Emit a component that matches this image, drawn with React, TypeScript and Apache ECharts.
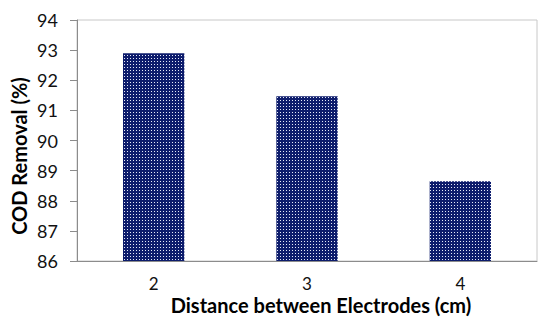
import React, { useEffect, useRef } from "react";
import * as echarts from "echarts";

const categories = ["2", "3", "4"];
const codRemoval = [92.9, 91.47, 88.65];
const yTicks = [86, 87, 88, 89, 90, 91, 92, 93, 94];
const xTitle = "Distance between Electrodes (cm)";
const yTitle = "COD Removal (%)";

function makePattern(): HTMLCanvasElement {
  const c = document.createElement("canvas");
  c.width = 3;
  c.height = 3;
  const ctx = c.getContext("2d")!;
  ctx.fillStyle = "#0d1c6c";
  ctx.fillRect(0, 0, 3, 3);
  ctx.fillStyle = "#e6eaf8";
  ctx.fillRect(1, 1, 1, 1);
  return c;
}

export default function App() {
  const ref = useRef<HTMLDivElement>(null);
  useEffect(() => {
    if (!ref.current) return;
    const chart = echarts.init(ref.current, null, { renderer: "svg" });
    const font = "Lato, 'Open Sans', sans-serif";
    chart.setOption({
      animation: false,
      backgroundColor: "#ffffff",
      grid: {
        left: 77,
        right: 13,
        top: 20,
        bottom: 61,
        show: true,
        borderColor: "#c8c8c8",
        borderWidth: 1,
      },
      xAxis: {
        type: "category",
        data: categories,
        axisLine: { lineStyle: { color: "#8c8c8c", width: 1 } },
        axisTick: { show: false },
        axisLabel: {
          color: "#111",
          fontSize: 17,
          lineHeight: 17,
          fontFamily: font,
          margin: 14,
        },
      },
      yAxis: {
        type: "value",
        min: yTicks[0],
        max: yTicks[yTicks.length - 1],
        interval: 1,
        splitLine: { show: false },
        axisLine: { show: true, lineStyle: { color: "#8c8c8c", width: 1 } },
        axisTick: { show: true, length: 7, lineStyle: { color: "#8c8c8c" } },
        axisLabel: {
          color: "#111",
          fontSize: 18,
          fontFamily: font,
          margin: 19,
        },
      },
      series: [
        {
          type: "bar",
          data: codRemoval,
          barWidth: "40%",
          itemStyle: {
            color: { image: makePattern(), repeat: "repeat" },
          },
        },
      ],
      graphic: [
        {
          type: "text",
          x: 321,
          y: 305,
          style: {
            text: xTitle,
            fontSize: 20,
            fontWeight: "bold",
            fontFamily: font,
            fill: "#000",
            textAlign: "center",
            textVerticalAlign: "middle",
          },
        },
        {
          type: "text",
          x: 19,
          y: 156,
          rotation: Math.PI / 2,
          style: {
            text: yTitle,
            fontSize: 20,
            fontWeight: "bold",
            fontFamily: font,
            fill: "#000",
            textAlign: "center",
            textVerticalAlign: "middle",
          },
        },
      ],
    });
    return () => chart.dispose();
  }, []);
  return (
    <div
      ref={ref}
      style={{ position: "fixed", left: 0, top: 0, width: 550, height: 322 }}
    />
  );
}
